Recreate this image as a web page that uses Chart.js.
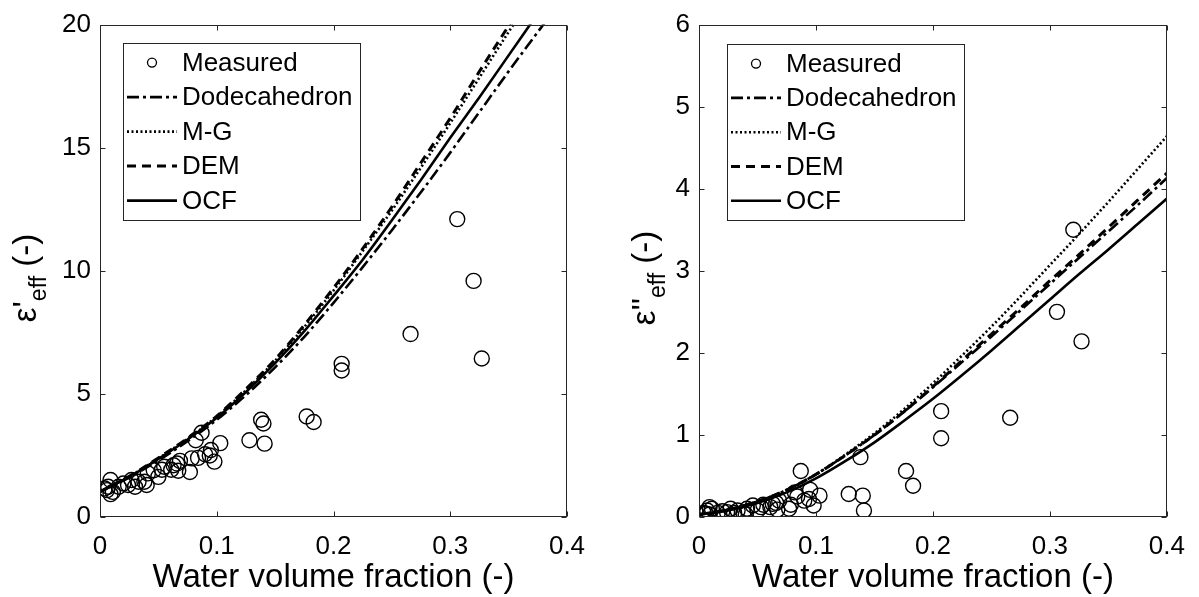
<!DOCTYPE html>
<html><head><meta charset="utf-8">
<script src="https://cdn.jsdelivr.net/npm/chart.js@4/dist/chart.umd.min.js"></script>
<style>
html,body{margin:0;padding:0;background:#fff;}
#wrap{position:relative;width:1199px;height:597px;background:#fff;}
canvas{position:absolute;top:0;}
#c1{left:0;} #c2{left:600px;}
</style></head><body>
<div id="wrap"><canvas id="c1" width="600" height="597"></canvas><canvas id="c2" width="599" height="597"></canvas></div>
<script>
// ---------- data ----------
const measuredX = [0.306,0.320,0.327,0.266,0.207,0.207,0.177,0.183,0.138,0.140,0.141,0.128,0.103,0.087,0.082,0.095,0.094,0.098,0.090,0.084,0.0785,0.077,0.0685,0.066,0.063,0.061,0.067,0.053,0.050,0.055,0.046,0.041,0.038,0.040,0.033,0.027,0.024,0.030,0.020,0.016,0.009,0.007,0.006,0.011,0.009,0.004];
const measuredReal = [12.1,9.59,6.44,7.43,6.22,5.95,4.08,3.86,3.95,3.80,2.98,3.12,3.00,3.42,3.12,2.72,2.50,2.25,2.55,2.40,2.38,1.83,2.28,2.17,2.10,1.92,1.88,1.92,1.63,2.04,1.90,1.77,1.43,1.30,1.43,1.50,1.30,1.23,1.36,1.23,1.50,1.23,1.09,1.02,0.93,1.16];
const measuredImag = [2.50,3.50,2.14,1.21,1.29,0.96,0.56,0.38,0.73,0.26,0.08,0.28,0.26,0.56,0.30,0.33,0.22,0.14,0.20,0.25,0.15,0.10,0.20,0.17,0.16,0.12,0.09,0.12,0.08,0.15,0.14,0.10,0.05,0.03,0.08,0.10,0.06,0.05,0.07,0.05,0.12,0.08,0.04,0.10,0.03,0.05];

const modelX = [0,0.025,0.05,0.075,0.1,0.125,0.15,0.175,0.2,0.225,0.25,0.275,0.3,0.325,0.35,0.375,0.4];
// real part (values beyond the axis top are clipped)
const dodecaReal = [1.03,1.60,2.30,3.08,3.95,4.95,6.08,7.32,8.70,10.15,11.65,13.2,14.8,16.45,18.1,19.7,21.3];
const mgReal     = [1.03,1.64,2.38,3.18,4.08,5.15,6.35,7.72,9.20,10.8,12.45,14.2,16.0,17.85,19.7,21.5,null];
const demReal    = [1.03,1.65,2.40,3.20,4.10,5.20,6.40,7.80,9.30,10.9,12.6,14.4,16.2,18.1,19.95,21.8,null];
const ocfReal    = [1.03,1.63,2.36,3.15,4.03,5.08,6.25,7.55,8.98,10.45,12.05,13.7,15.4,17.05,18.75,20.45,null];
// imaginary part
const dodecaImag = [0.03,0.09,0.19,0.33,0.52,0.75,1.00,1.28,1.58,1.89,2.20,2.52,2.84,3.16,3.48,3.80,4.13];
const mgImag     = [0.03,0.09,0.19,0.33,0.52,0.76,1.02,1.31,1.63,1.97,2.32,2.69,3.07,3.45,3.84,4.24,4.64];
const demImag    = [0.03,0.09,0.19,0.33,0.52,0.75,1.00,1.28,1.59,1.91,2.23,2.55,2.88,3.20,3.53,3.86,4.19];
const ocfImag    = [0.03,0.08,0.17,0.30,0.47,0.68,0.91,1.17,1.44,1.73,2.03,2.34,2.65,2.96,3.26,3.57,3.88];

const seriesNames = ['Measured','Dodecahedron','M-G','DEM','OCF'];
const xTicks = [0,0.1,0.2,0.3,0.4];
const xTitle = 'Water volume fraction (-)';

// ---------- helpers ----------
const FONT = "'Liberation Sans', Arial, Helvetica, sans-serif";
const INK = '#000';
const AXIS = '#262626';

function pts(xs, ys){
  const out = [];
  for (let i=0;i<xs.length;i++){ if (ys[i]!==null && ys[i]!==undefined) out.push({x:xs[i], y:ys[i]}); }
  return out;
}

const styles = [
  {dash:[12,4,3,4], w:2.6},
  {dash:[2,2.5], w:2.6},
  {dash:[9,6], w:3},
  {dash:[], w:2.6}
];

function datasets(meas, curves){
  const ds = [{
    label: seriesNames[0], data: pts(measuredX, meas), showLine:false,
    pointStyle:'circle', pointRadius:7.5, pointHoverRadius:7.5, pointBorderWidth:1.4,
    borderColor:INK, backgroundColor:'rgba(0,0,0,0)', pointBackgroundColor:'rgba(0,0,0,0)', order:5
  }];
  curves.forEach((c,i)=>{
    ds.push({
      label: seriesNames[i+1], data: pts(modelX, c), showLine:true, pointRadius:0, pointHoverRadius:0,
      borderColor:INK, backgroundColor:INK, borderWidth:styles[i].w, borderDash:styles[i].dash,
      cubicInterpolationMode:'monotone', fill:false, order:4-i
    });
  });
  return ds;
}

const boxPlugin = {
  id:'matlabBox',
  afterDatasetsDraw(chart){
    const {ctx, chartArea:a, scales:{x,y}} = chart;
    ctx.save();
    ctx.strokeStyle = AXIS; ctx.lineWidth = 1; ctx.setLineDash([]);
    const l = Math.round(a.left)+0.5, r = Math.round(a.right)-0.5, t = Math.round(a.top)+0.5, b = Math.round(a.bottom)-0.5;
    ctx.strokeRect(l, t, r-l, b-t);
    const L = 5;
    ctx.beginPath();
    x.ticks.forEach(tk=>{
      const px = Math.round(x.getPixelForValue(tk.value))+0.5;
      ctx.moveTo(px,b); ctx.lineTo(px,b-L);
      ctx.moveTo(px,t); ctx.lineTo(px,t+L);
    });
    y.ticks.forEach(tk=>{
      const py = Math.round(y.getPixelForValue(tk.value))+0.5;
      ctx.moveTo(l,py); ctx.lineTo(l+L,py);
      ctx.moveTo(r,py); ctx.lineTo(r-L,py);
    });
    ctx.stroke();
    ctx.restore();
  }
};

const legendPlugin = {
  id:'boxLegend',
  afterDraw(chart, args, opts){
    const {ctx, chartArea:a} = chart;
    const bx = a.left + opts.dx, by = a.top + opts.dy, bw = opts.w, bh = opts.h;
    ctx.save();
    ctx.fillStyle = '#fff';
    ctx.fillRect(bx, by, bw, bh);
    ctx.strokeStyle = AXIS; ctx.lineWidth = 1; ctx.setLineDash([]);
    ctx.strokeRect(Math.round(bx)+0.5, Math.round(by)+0.5, bw, bh);
    chart.data.datasets.forEach((ds, i)=>{
      const cy = by + opts.first + i*opts.step;
      const x0 = bx + 4, x1 = bx + 54;
      ctx.strokeStyle = INK;
      if (!ds.showLine){
        ctx.setLineDash([]); ctx.lineWidth = 1.3;
        ctx.beginPath(); ctx.arc((x0+x1)/2, cy, 4.5, 0, Math.PI*2); ctx.stroke();
      } else {
        ctx.setLineDash(ds.borderDash || []); ctx.lineWidth = ds.borderWidth;
        ctx.beginPath(); ctx.moveTo(x0, cy); ctx.lineTo(x1, cy); ctx.stroke();
      }
      ctx.setLineDash([]);
      ctx.fillStyle = INK; ctx.font = '26px ' + FONT; ctx.textBaseline = 'middle'; ctx.textAlign = 'left';
      ctx.fillText(ds.label, bx + 59, cy + 1);
    });
    ctx.restore();
  }
};

const yTitlePlugin = {
  id:'yTitle',
  afterDraw(chart, args, opts){
    const {ctx} = chart;
    const mainF = '33px ' + FONT, subF = '23px ' + FONT;
    ctx.save();
    ctx.fillStyle = INK; ctx.textBaseline = 'alphabetic'; ctx.textAlign = 'left';
    ctx.font = mainF; const w1 = ctx.measureText(opts.main).width; const w3 = ctx.measureText(opts.tail).width;
    ctx.font = subF; const w2 = ctx.measureText(opts.sub).width;
    const total = w1 + w2 + w3;
    ctx.translate(opts.x, opts.y);
    ctx.rotate(-Math.PI/2);
    let s = -total/2;
    ctx.font = mainF; ctx.fillText(opts.main, s, 0); s += w1;
    ctx.font = subF; ctx.fillText(opts.sub, s, opts.shift); s += w2;
    ctx.font = mainF; ctx.fillText(opts.tail, s, 0);
    ctx.restore();
  }
};

function makeChart(id, meas, curves, yMax, yStep, yw, padRight, legendOpts, ytitle){
  return new Chart(document.getElementById(id), {
    type:'scatter',
    data:{ datasets: datasets(meas, curves) },
    plugins:[boxPlugin, legendPlugin, yTitlePlugin],
    options:{
      responsive:false, devicePixelRatio:1, animation:false,
      layout:{ padding:{ top:23, right:padRight, bottom:0, left:0 } },
      plugins:{
        legend:{display:false}, tooltip:{enabled:false},
        boxLegend: legendOpts,
        yTitle: ytitle
      },
      scales:{
        x:{
          type:'linear', min:0, max:0.4,
          afterBuildTicks: s => { s.ticks = xTicks.map(v=>({value:v})); },
          ticks:{ color:INK, font:{family:FONT, size:26}, padding:14, maxRotation:0,
                  callback: v => String(Math.round(v*10)/10) },
          grid:{ display:false, drawTicks:false }, border:{ display:false },
          title:{ display:true, text:xTitle, color:INK, font:{family:FONT, size:33}, padding:{top:0,bottom:-1} },
          afterFit: s => { s.height = 80; }
        },
        y:{
          type:'linear', min:0, max:yMax,
          ticks:{ stepSize:yStep, color:INK, font:{family:FONT, size:26}, padding:9 },
          grid:{ display:false, drawTicks:false }, border:{ display:false },
          title:{ display:false },
          afterFit: s => { s.width = yw; }
        }
      }
    }
  });
}

makeChart('c1', measuredReal, [dodecaReal, mgReal, demReal, ocfReal], 20, 5, 100, 33,
  {dx:23, dy:18, w:237, h:177, first:20, step:34.5},
  {main:"ε'", sub:'eff', tail:' (-)', x:36, y:278, shift:10});
makeChart('c2', measuredImag, [dodecaImag, mgImag, demImag, ocfImag], 6, 1, 99, 20,
  {dx:28, dy:19, w:237, h:176, first:20, step:34.3},
  {main:"ε''", sub:'eff', tail:' (-)', x:55, y:278, shift:10});
</script>
</body></html>
